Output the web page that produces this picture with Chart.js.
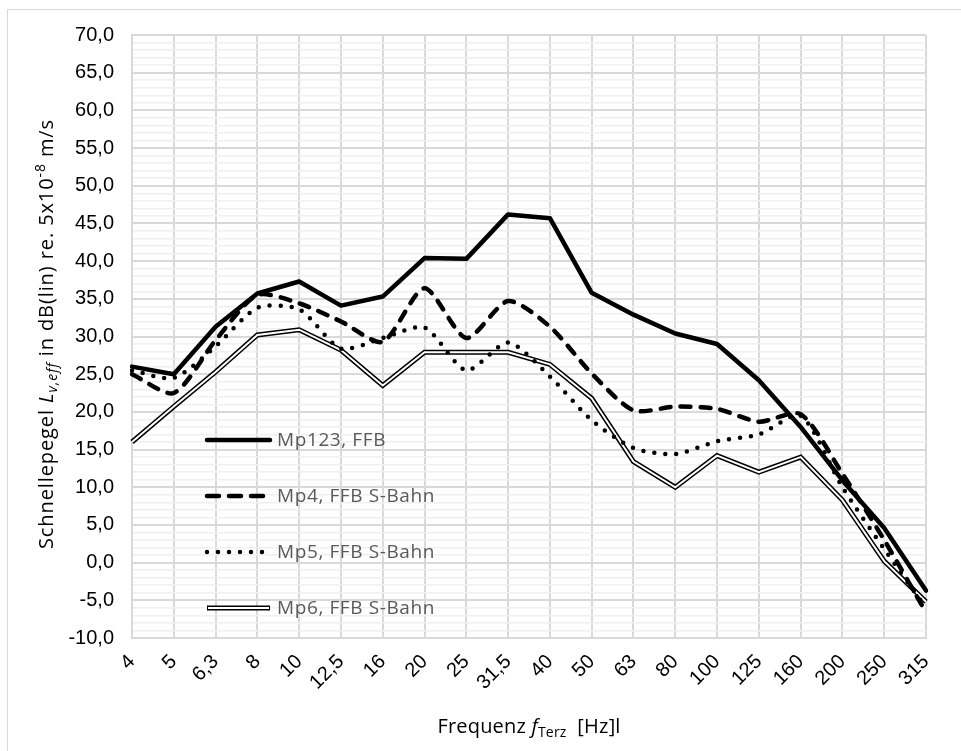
<!DOCTYPE html>
<html>
<head>
<meta charset="utf-8">
<script src="https://cdn.jsdelivr.net/npm/chart.js@4.4.1/dist/chart.umd.min.js"></script>
<style>
  html, body { margin: 0; padding: 0; background: #fff; }
  #frame { position: absolute; left: 7px; top: 9px; width: 960px; height: 750px;
           border-left: 1px solid #d9d9d9; border-top: 1px solid #d9d9d9; }
  #wrap { position: absolute; left: 0; top: 0; width: 961px; height: 751px; }
</style>
</head>
<body>
<div id="frame"></div>
<div id="wrap"><canvas id="chart" width="961" height="751"></canvas></div>
<script>
// Terzband-Mittenfrequenzen
const categories = ['4', '5', '6,3', '8', '10', '12,5', '16', '20', '25', '31,5',
                    '40', '50', '63', '80', '100', '125', '160', '200', '250', '315'];
// Schnellepegel in dB
const mp123 = [26.0, 25.0, 31.3, 35.7, 37.3, 34.1, 35.3, 40.4, 40.3, 46.2,
               45.7, 35.8, 32.9, 30.4, 29.0, 24.2, 18.0, 10.9, 4.6, -3.7];
const mp4 = [25.0, 22.5, 29.5, 35.5, 34.4, 32.0, 29.3, 36.4, 29.8, 34.7,
             31.3, 25.1, 20.2, 20.7, 20.4, 18.7, 19.7, 11.8, 3.0, -6.6];
const mp5 = [25.5, 24.5, 28.7, 33.8, 33.6, 28.4, 29.8, 31.2, 25.5, 29.2,
             24.7, 18.9, 15.2, 14.4, 16.1, 17.0, 19.5, 10.0, 1.8, -6.0];
const mp6 = [16.0, 20.7, 25.3, 30.2, 30.9, 28.2, 23.5, 27.9, 27.9, 27.9,
             26.3, 21.8, 13.4, 10.0, 14.2, 12.0, 14.0, 8.3, 0.2, -5.2];
const seriesNames = ['Mp123, FFB', 'Mp4, FFB S-Bahn', 'Mp5, FFB S-Bahn', 'Mp6, FFB S-Bahn'];

const titleFont = '"Open Sans", sans-serif';
const tickFont = { family: '"Liberation Sans", Arial, sans-serif', size: 20 };

// Text mit Hoch-/Tiefstellung zeichnen
function drawRich(ctx, parts, x, y, angle, spacing) {
  ctx.save();
  ctx.translate(x, y);
  ctx.rotate(angle);
  ctx.textBaseline = 'alphabetic';
  ctx.textAlign = 'left';
  ctx.letterSpacing = spacing + 'px';
  let total = 0;
  parts.forEach(p => { ctx.font = p.font; total += ctx.measureText(p.text).width; });
  let cx = -total / 2;
  parts.forEach(p => {
    ctx.font = p.font;
    ctx.fillStyle = p.color || '#000';
    ctx.fillText(p.text, cx, p.dy || 0);
    cx += ctx.measureText(p.text).width;
  });
  ctx.restore();
}

const axisTitles = {
  id: 'axisTitles',
  afterDraw(chart) {
    const ctx = chart.ctx;
    const a = chart.chartArea;
    const n = '20px ' + titleFont, it = 'italic 20px ' + titleFont, sm = '14px ' + titleFont;
    drawRich(ctx, [
      { text: 'Schnellepegel ', font: n },
      { text: 'L', font: it },
      { text: 'v,eff', font: 'italic ' + sm, dy: 4 },
      { text: ' in dB(lin) re. 5x10', font: n },
      { text: '-8', font: sm, dy: -8 },
      { text: ' m/s', font: n }
    ], 53, 334, -Math.PI / 2, 0.9);
    drawRich(ctx, [
      { text: 'Frequenz ', font: '20px ' + titleFont },
      { text: 'f', font: 'italic 20px ' + titleFont },
      { text: 'Terz', font: '14px ' + titleFont, dy: 4 },
      { text: '  [Hz]l', font: '20px ' + titleFont }
    ], (a.left + a.right) / 2, 733, 0, 0.2);
  }
};

// Legende innerhalb der Zeichenfläche
const innerLegend = {
  id: 'innerLegend',
  afterDatasetsDraw(chart) {
    const ctx = chart.ctx;
    const a = chart.chartArea;
    const x0 = a.left + 75, x1 = a.left + 138;
    const styles = chart.data.datasets.filter(d => d.legendIndex !== undefined);
    ctx.save();
    styles.forEach(d => {
      const y = a.top + 405 + d.legendIndex * 56;
      ctx.beginPath();
      ctx.moveTo(x0, y);
      ctx.lineTo(x1, y);
      ctx.strokeStyle = '#000';
      ctx.lineWidth = d.borderWidth;
      ctx.lineCap = d.borderCapStyle || 'butt';
      ctx.setLineDash(d.legendDash || d.borderDash || []);
      ctx.stroke();
      if (d.legendIndex === 3) {
        ctx.beginPath();
        ctx.moveTo(x0 + 1, y);
        ctx.lineTo(x1 - 1, y);
        ctx.strokeStyle = '#fff';
        ctx.lineWidth = 2;
        ctx.stroke();
      }
      ctx.setLineDash([]);
      ctx.font = '19px ' + titleFont;
      ctx.letterSpacing = '0.6px';
      ctx.fillStyle = '#595959';
      ctx.textBaseline = 'middle';
      ctx.fillText(seriesNames[d.legendIndex], x1 + 7, y + 1);
    });
    ctx.restore();
  }
};

new Chart(document.getElementById('chart').getContext('2d'), {
  type: 'line',
  data: {
    labels: categories,
    datasets: [
      { data: mp123, borderColor: '#000', borderWidth: 4.5, legendIndex: 0,
        borderCapStyle: 'round', borderJoinStyle: 'round', tension: 0 },
      { data: mp4, borderColor: '#000', borderWidth: 4.5, legendIndex: 1,
        borderDash: [10, 10], legendDash: [12, 10], borderCapStyle: 'round', tension: 0.25 },
      { data: mp5, borderColor: '#000', borderWidth: 4.5, legendIndex: 2,
        borderDash: [0, 11], borderCapStyle: 'round', tension: 0.25 },
      { data: mp6, borderColor: '#fff', borderWidth: 2, tension: 0 },
      { data: mp6, borderColor: '#000', borderWidth: 5, legendIndex: 3, tension: 0 }
    ]
  },
  options: {
    responsive: false,
    animation: false,
    layout: { padding: { left: 0, top: 35, right: 35, bottom: 0 } },
    elements: { point: { radius: 0 } },
    plugins: { legend: { display: false }, tooltip: { enabled: false } },
    scales: {
      x: {
        afterFit: s => { s.height = 113; },
        grid: { color: '#d9d9d9', lineWidth: 2, drawTicks: false },
        border: { color: '#d9d9d9', width: 2 },
        ticks: { color: '#000', font: tickFont, minRotation: 45, maxRotation: 45,
                 autoSkip: false, padding: 12 }
      },
      y: {
        min: -10,
        max: 70,
        afterFit: s => { s.width = 132; },
        grid: {
          drawTicks: false,
          color: c => (c.tick && c.tick.value % 5 === 0) ? '#d9d9d9' : '#f0f0f0',
          lineWidth: c => (c.tick && c.tick.value % 5 === 0) ? 2 : 1.5
        },
        border: { color: '#d9d9d9', width: 2 },
        ticks: {
          stepSize: 1,
          autoSkip: false,
          color: '#000',
          font: tickFont,
          padding: 18,
          callback: v => v % 5 === 0 ? v.toFixed(1).replace('.', ',') : ''
        }
      }
    }
  },
  plugins: [axisTitles, innerLegend]
});
</script>
</body>
</html>
